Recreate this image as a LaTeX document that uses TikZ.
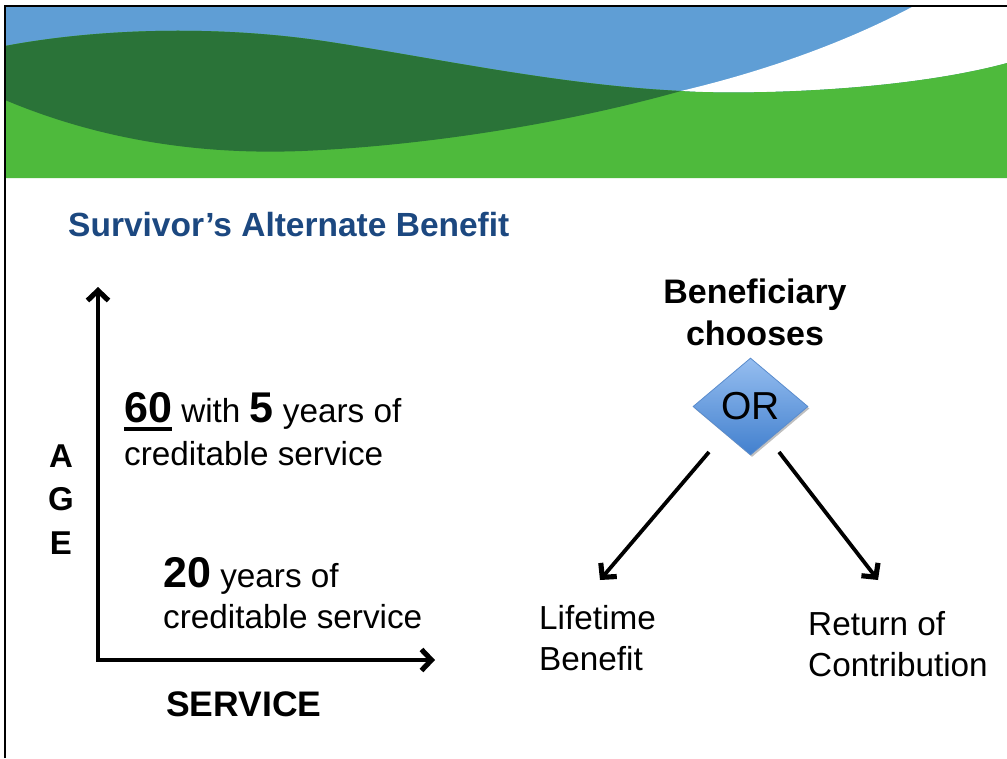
\documentclass[tikz,border=0pt]{standalone}
\usepackage{fontspec}
\setmainfont{Liberation Sans}
\usetikzlibrary{arrows.meta,shapes.geometric,shadows}
\definecolor{hblue}{RGB}{95,158,213}
\definecolor{hdgreen}{RGB}{42,115,56}
\definecolor{hlgreen}{RGB}{78,186,60}
\definecolor{titleblue}{RGB}{28,72,128}
\definecolor{dtop}{RGB}{150,190,240}
\definecolor{dbot}{RGB}{66,128,206}
\definecolor{dedge}{RGB}{90,140,205}
\newcommand\thickul[1]{\setbox0=\hbox{#1}\rlap{\rule[-9pt]{\wd0}{4pt}}\box0}
\tikzset{
  txt/.style={inner sep=0pt, anchor=base west, font=\fontsize{33.3}{40}\selectfont},
  btxt/.style={inner sep=0pt, anchor=base, font=\fontsize{34}{40}\selectfont\bfseries},
  barb/.tip={Straight Barb[length=10pt,width=21pt,line width=0pt 1.35]},
  axisline/.style={line width=3.8pt, line join=miter, barb-barb},
  choicearrow/.style={line width=3.8pt, -barb},
  ordiamond/.style={diamond, draw=dedge, line width=0.8pt, top color=dtop, bottom color=dbot,
    minimum width=115pt, minimum height=97pt, inner sep=0pt, aspect=1.19,
    drop shadow={shadow xshift=1.5pt, shadow yshift=-2pt, opacity=0.25, fill=black},
    font=\fontsize{39}{40}\selectfont}
}
\begin{document}
\begin{tikzpicture}[x=1pt,y=-1pt]
\useasboundingbox (0,0) rectangle (1007,758);
% header
\fill[hblue] (5,7) rectangle (1007,178);
\fill[white] (912,7) -- (1007,7) -- (1007,63)
  .. controls (900,92) and (740,95) .. (681,91)
  .. controls (770,70) and (850,40) .. (912,7) -- cycle;
\fill[hlgreen] (5,46) .. controls (100,28) and (220,25) .. (330,42)
  .. controls (440,59) and (560,85) .. (681,91)
  .. controls (740,95) and (900,92) .. (1007,63)
  -- (1007,178) -- (5,178) -- cycle;
\fill[hdgreen] (5,46) .. controls (100,28) and (220,25) .. (330,42)
  .. controls (440,59) and (560,85) .. (681,91)
  .. controls (560,125) and (420,146) .. (302,151)
  .. controls (200,155) and (100,140) .. (5,100) -- cycle;
% frame
\draw[line width=2.5pt] (5,758) -- (5,6) -- (1007,6);
% title
\node[txt, font=\fontsize{33.5}{40}\selectfont\bfseries, text=titleblue] (title) at (68,236) {Survivor’s Alternate Benefit};
% axes
\coordinate (ytop) at (98,287);
\coordinate (orig) at (98,660);
\coordinate (xend) at (435,660);
\draw[axisline] (ytop) -- (orig) -- (xend);
\node[btxt, font=\fontsize{33}{40}\selectfont\bfseries] (a) at (61,467) {A};
\node[btxt, font=\fontsize{33}{40}\selectfont\bfseries] (g) at (61,510) {G};
\node[btxt, font=\fontsize{33}{40}\selectfont\bfseries] (e) at (61,554) {E};
\node[txt] (l1) at (124,422) {{\fontsize{43}{43}\selectfont\bfseries\thickul{60}} with {\fontsize{43}{43}\selectfont\bfseries 5} years of};
\node[txt] (l2) at (124,465) {creditable service};
\node[txt] (l3) at (163,587) {{\fontsize{43}{43}\selectfont\bfseries 20} years of};
\node[txt] (l4) at (163,628) {creditable service};
\node[txt, font=\fontsize{35.5}{40}\selectfont\bfseries] (service) at (166,716) {SERVICE};
% right part
\node[btxt] (bene) at (755,303) {Beneficiary};
\node[btxt] (choo) at (755,345) {chooses};
\node[ordiamond] (or) at (750.5,406.5) {OR};
\coordinate (ls) at (709,452);
\coordinate (le) at (600,580);
\coordinate (rs) at (779,452);
\coordinate (re) at (878,580);
\draw[choicearrow] (ls) -- (le);
\draw[choicearrow] (rs) -- (re);
\node[txt] (life1) at (539,629) {Lifetime};
\node[txt] (life2) at (539,670) {Benefit};
\node[txt] (ret1) at (808,635) {Return of};
\node[txt] (ret2) at (808,676) {Contribution};
\end{tikzpicture}
\end{document}
